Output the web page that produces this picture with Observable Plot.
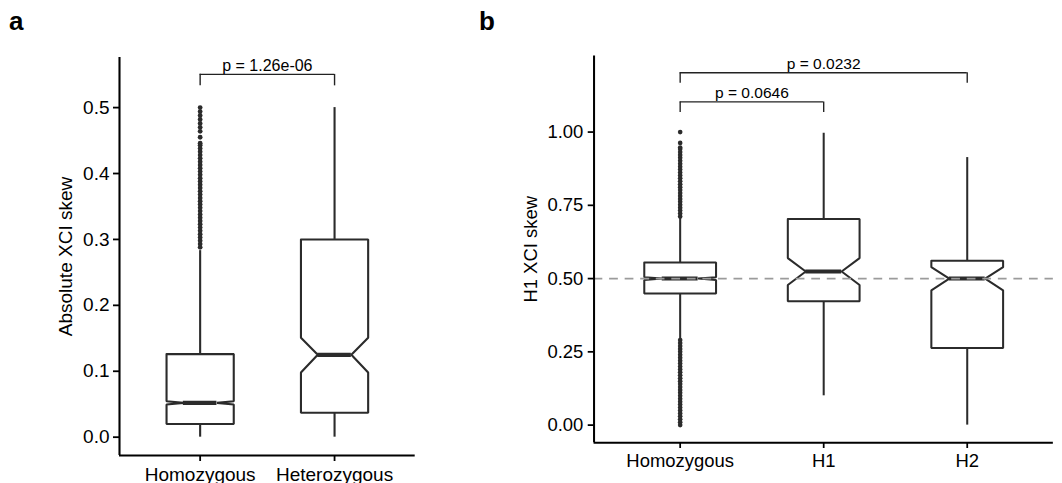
<!DOCTYPE html>
<html><head><meta charset="utf-8">
<script src="https://cdn.jsdelivr.net/npm/d3@7"></script>
<script src="https://cdn.jsdelivr.net/npm/@observablehq/plot@0.6"></script>
<style>
html,body{margin:0;padding:0;background:#fff;overflow:hidden;width:1062px;height:483px}
#wrap{position:relative;width:1062px;height:483px;overflow:hidden;font-family:"Liberation Sans",Arial,sans-serif}
.panel{position:absolute;top:0}
.tag{position:absolute;font:bold 26px "Liberation Sans",Arial,sans-serif;line-height:normal;color:#000}
</style></head><body>
<div id="wrap">
  <div class="tag" style="left:9px;top:6px">a</div>
  <div class="tag" style="left:479px;top:6px">b</div>
  <div id="pa" class="panel" style="left:0px"></div>
  <div id="pb" class="panel" style="left:440px"></div>
</div>
<script>
// ---------- Panel a data ----------
const groupsA = ["Homozygous", "Heterozygous"];
const lowerA = [0.000, 0.000];
const q1A = [0.020, 0.037];
const medianA = [0.052, 0.125];
const q3A = [0.126, 0.300];
const upperA = [0.283, 0.500];
const notchLowA = [0.0495, 0.098];
const notchHighA = [0.0545, 0.151];
const outliersA_Homozygous = [0.288,0.293,0.298,0.303,0.308,0.313,0.318,0.323,0.328,0.333,0.338,0.343,0.348,0.353,0.358,0.363,0.368,0.373,0.378,0.383,0.388,0.393,0.398,0.403,0.408,0.413,0.418,0.423,0.428,0.433,0.438,0.443,0.446,0.455,0.464,0.470,0.476,0.482,0.488,0.494,0.500];
const yTicksA = [0, 0.1, 0.2, 0.3, 0.4, 0.5];
const bracketsA = {from: [0], to: [1], top: [0.5504], foot: [0.533], label: ["p = 1.26e-06"]};
const yTitleA = "Absolute XCI skew";

// ---------- Panel b data ----------
const groupsB = ["Homozygous", "H1", "H2"];
const lowerB = [0.294, 0.100, 0.000];
const q1B = [0.449, 0.423, 0.263];
const medianB = [0.500, 0.524, 0.500];
const q3B = [0.555, 0.703, 0.561];
const upperB = [0.709, 0.996, 0.913];
const notchLowB = [0.4955, 0.478, 0.460];
const notchHighB = [0.5045, 0.570, 0.539];
const outliersB_Homozygous = [0.000,0.010,0.020,0.030,0.040,0.050,0.060,0.070,0.080,0.090,0.100,0.110,0.120,0.130,0.140,0.150,0.160,0.170,0.180,0.190,0.200,0.210,0.220,0.230,0.240,0.250,0.260,0.270,0.280,0.290,
  0.712,0.722,0.732,0.742,0.752,0.762,0.772,0.782,0.792,0.802,0.812,0.822,0.832,0.842,0.852,0.862,0.872,0.882,0.892,0.902,0.912,0.922,0.932,0.942,0.947,0.963,1.000];
const yTicksB = [0, 0.25, 0.5, 0.75, 1.0];
const bracketsB = {from: [0, 0], to: [1, 2], top: [1.103, 1.2026], foot: [1.067, 1.167], label: ["p = 0.0646", "p = 0.0232"]};
const refLineB = [0.5];
const yTitleB = "H1 XCI skew";

// ---------- helpers ----------
const FONT = '"Liberation Sans", Arial, sans-serif';
const BOX = "#2b2b2b";
const HW = 0.25;   // half box width (category units)
const IND = 0.125; // notch indent

function makeBoxes(groups, lower, q1, med, q3, upper, nl, nh) {
  return groups.map((g, i) => ({g, i, lower: lower[i], q1: q1[i], med: med[i], q3: q3[i], upper: upper[i], nl: nl[i], nh: nh[i]}));
}
function outlines(boxes) {
  const pts = [];
  for (const b of boxes) {
    const a = b.i - HW, c = b.i + HW;
    [[a,b.q3],[c,b.q3],[c,b.nh],[c-IND,b.med],[c,b.nl],[c,b.q1],[a,b.q1],[a,b.nl],[a+IND,b.med],[a,b.nh],[a,b.q3]]
      .forEach(([x,y]) => pts.push({x, y, i: b.i}));
  }
  return pts;
}
function brackets(br) {
  return br.from.map((f, k) => ({x1: f, x2: br.to[k], top: br.top[k], foot: br.foot[k], label: br.label[k]}));
}
function bracketFeet(br) {
  const out = [];
  brackets(br).forEach(b => { out.push({x: b.x1, y1: b.top, y2: b.foot}); out.push({x: b.x2, y1: b.top, y2: b.foot}); });
  return out;
}

function panel({groups, boxes, outliers, outlierGroup, yDomain, yTicks, yFormat, br, title, width, marginLeft, marginRight, titleOffset, refLine, tickPad}) {
  const xDomain = [-0.6, groups.length - 0.4];
  const gi = groups.indexOf(outlierGroup);
  const marks = [
    Plot.ruleX(boxes, {x: "i", y1: "q3", y2: "upper", stroke: BOX, strokeWidth: 2.1}),
    Plot.ruleX(boxes, {x: "i", y1: "lower", y2: "q1", stroke: BOX, strokeWidth: 2.1}),
    Plot.dot(outliers, {x: () => gi, y: d => d, r: 2.4, fill: BOX, stroke: "none"}),
    Plot.line(outlines(boxes), {x: "x", y: "y", z: "i", fill: "white", stroke: BOX, strokeWidth: 2.1, strokeLinejoin: "miter", curve: "linear"}),
    Plot.ruleY(boxes, {y: "med", x1: d => d.i - HW + IND, x2: d => d.i + HW - IND, stroke: BOX, strokeWidth: 4.2}),
  ];
  if (refLine) marks.push(Plot.ruleY(refLine, {stroke: "#9b9b9b", strokeWidth: 1.7, strokeDasharray: "9,7"}));
  marks.push(
    Plot.ruleY(brackets(br), {y: "top", x1: "x1", x2: "x2", stroke: "#222", strokeWidth: 1.4}),
    Plot.ruleX(bracketFeet(br), {x: "x", y1: "y1", y2: "y2", stroke: "#222", strokeWidth: 1.4}),
    Plot.text(brackets(br), {x: d => (d.x1 + d.x2) / 2, y: "top", text: "label", lineAnchor: "bottom", dy: -3.5, fontSize: 16, fill: "#000", fontFamily: FONT}),
    Plot.axisY({ticks: yTicks, tickFormat: d3.format(yFormat), tickSize: 6, tickPadding: tickPad, fontSize: 19, fill: "#000", stroke: "#000", strokeWidth: 1.8, label: null}),
    Plot.axisX({ticks: d3.range(groups.length), tickFormat: i => groups[i], tickSize: 6, tickPadding: 6, fontSize: 19, fill: "#000", stroke: "#000", strokeWidth: 1.8, label: null}),
    Plot.ruleY([yDomain[0]], {stroke: "#000", strokeWidth: 2.1}),
    Plot.ruleX([xDomain[0]], {stroke: "#000", strokeWidth: 2.1}),
    Plot.text([title], {text: d => d, frameAnchor: "left", rotate: -90, dx: -titleOffset, fontSize: 19, fill: "#000", fontFamily: FONT, textAnchor: "middle"})
  );
  return Plot.plot({
    width, height: 483,
    marginLeft, marginRight, marginTop: 57, marginBottom: 28,
    style: {fontFamily: FONT, background: "transparent", overflow: "visible"},
    x: {domain: xDomain, axis: null},
    y: {domain: yDomain, axis: null},
    marks
  });
}

document.getElementById("pa").appendChild(panel({
  groups: groupsA,
  boxes: makeBoxes(groupsA, lowerA, q1A, medianA, q3A, upperA, notchLowA, notchHighA),
  outliers: outliersA_Homozygous, outlierGroup: "Homozygous",
  yDomain: [-0.0278, 0.576], yTicks: yTicksA, yFormat: ".1f",
  br: bracketsA, title: yTitleA,
  width: 440, marginLeft: 119, marginRight: 25.3, titleOffset: 54, tickPad: 4
}));
document.getElementById("pb").appendChild(panel({
  groups: groupsB,
  boxes: makeBoxes(groupsB, lowerB, q1B, medianB, q3B, upperB, notchLowB, notchHighB),
  outliers: outliersB_Homozygous, outlierGroup: "Homozygous",
  yDomain: [-0.06, 1.26], yTicks: yTicksB, yFormat: ".2f",
  br: bracketsB, title: yTitleB, refLine: refLineB,
  width: 640, marginLeft: 158, marginRight: 9.4, titleOffset: 65, tickPad: 5
}));
</script>
</body></html>
